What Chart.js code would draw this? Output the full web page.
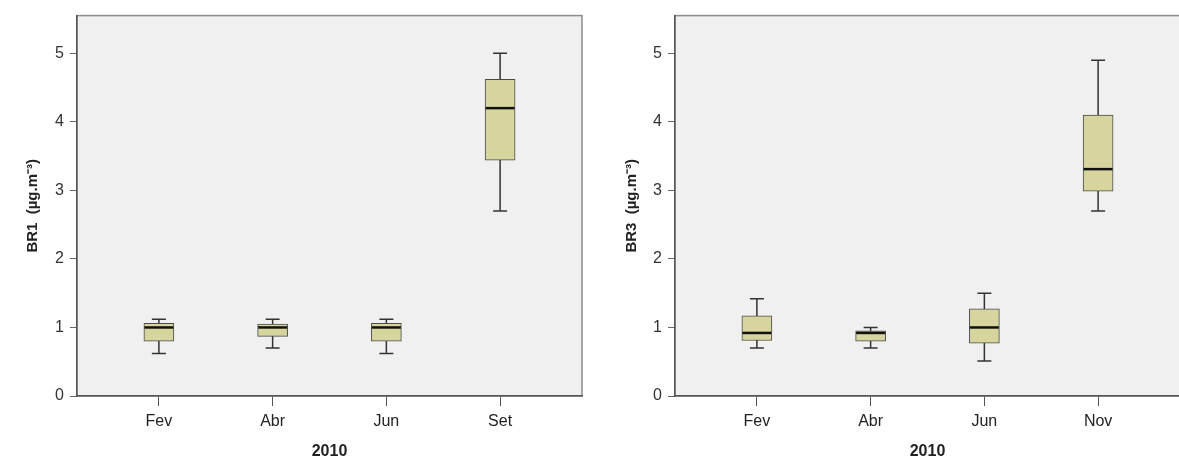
<!DOCTYPE html>
<html>
<head>
<meta charset="utf-8">
<script src="https://cdn.jsdelivr.net/npm/chart.js@4.4.0/dist/chart.umd.min.js"></script>
<style>
  html, body { margin: 0; padding: 0; background: #fff; overflow: hidden; width: 1179px; height: 464px; }
  canvas { position: absolute; top: 0; }
  #graf-br1 { left: 0; }
  #graf-br3 { left: 590px; }
</style>
</head>
<body>
<canvas id="graf-br1" width="590" height="464"></canvas>
<canvas id="graf-br3" width="600" height="464"></canvas>
<script>
// valores (µg.m-3)
const mesesBR1 = ['Fev', 'Abr', 'Jun', 'Set'];
const br1Min = [0.62, 0.70, 0.62, 2.70];
const br1Q1  = [0.80, 0.87, 0.80, 3.44];
const br1Med = [1.00, 1.00, 1.00, 4.20];
const br1Q3  = [1.06, 1.05, 1.06, 4.62];
const br1Max = [1.12, 1.12, 1.12, 5.00];

const mesesBR3 = ['Fev', 'Abr', 'Jun', 'Nov'];
const br3Min = [0.70, 0.70, 0.51, 2.70];
const br3Q1  = [0.81, 0.80, 0.77, 2.99];
const br3Med = [0.92, 0.92, 1.00, 3.31];
const br3Q3  = [1.17, 0.95, 1.27, 4.10];
const br3Max = [1.42, 1.00, 1.50, 4.90];

const yTicks = [0, 1, 2, 3, 4, 5];

const fonte = '"Liberation Sans", Arial, sans-serif';
const corCaixa = 'rgb(215, 213, 158)';

// fundo, bigodes e medianas (Chart.js nao tem boxplot nativo)
function pluginCaixa(mins, meds, maxs) {
  return {
    id: 'caixa',
    beforeDraw(chart) {
      const a = chart.chartArea, ctx = chart.ctx;
      ctx.save();
      ctx.fillStyle = '#f0f0f0';
      ctx.fillRect(a.left, a.top, a.right - a.left, a.bottom - a.top);
      ctx.strokeStyle = '#8c8c8c';
      ctx.lineWidth = 1.5;
      ctx.strokeRect(a.left, a.top, a.right - a.left, a.bottom - a.top);
      ctx.restore();
    },
    beforeDatasetsDraw(chart) {
      const x = chart.scales.x, y = chart.scales.y, ctx = chart.ctx;
      ctx.save();
      ctx.strokeStyle = '#333';
      ctx.lineWidth = 1.5;
      mins.forEach((mn, i) => {
        const px = x.getPixelForValue(i);
        const yMin = y.getPixelForValue(mn), yMax = y.getPixelForValue(maxs[i]);
        ctx.beginPath();
        ctx.moveTo(px, yMin); ctx.lineTo(px, yMax);
        ctx.moveTo(px - 7, yMin); ctx.lineTo(px + 7, yMin);
        ctx.moveTo(px - 7, yMax); ctx.lineTo(px + 7, yMax);
        ctx.stroke();
      });
      ctx.restore();
    },
    afterDatasetsDraw(chart) {
      const x = chart.scales.x, y = chart.scales.y, ctx = chart.ctx;
      ctx.save();
      ctx.strokeStyle = '#111';
      ctx.lineWidth = 2.5;
      meds.forEach((md, i) => {
        const px = x.getPixelForValue(i), py = y.getPixelForValue(md);
        ctx.beginPath();
        ctx.moveTo(px - 14.5, py); ctx.lineTo(px + 14.5, py);
        ctx.stroke();
      });
      ctx.restore();
    }
  };
}

function criaGrafico(id, meses, mins, q1, meds, q3, maxs, tituloY, padY, larguraY, padDir) {
  return new Chart(document.getElementById(id), {
    type: 'bar',
    data: {
      datasets: [{
        data: q1.map((v, i) => ({ x: i, y: [v, q3[i]] })),
        backgroundColor: corCaixa,
        borderColor: '#4a4a4a',
        borderWidth: 1,
        borderSkipped: false,
        barThickness: 30
      }]
    },
    options: {
      responsive: false,
      animation: false,
      layout: { padding: { top: 15, right: padDir, left: 0, bottom: 0 } },
      plugins: { legend: { display: false }, tooltip: { enabled: false } },
      scales: {
        x: {
          type: 'linear',
          offset: false,
          min: -0.72,
          max: 3.72,
          afterBuildTicks: s => { s.ticks = meses.map((m, i) => ({ value: i })); },
          afterFit: s => { s.height = 68; },
          border: { display: true, color: '#555', width: 1.5 },
          grid: { offset: false, drawOnChartArea: false, drawTicks: true, tickLength: 10, color: '#555' },
          ticks: {
            color: '#222',
            padding: 6,
            maxRotation: 0,
            font: { family: fonte, size: 16 },
            callback: v => meses[v]
          },
          title: {
            display: true,
            text: '2010',
            color: '#222',
            padding: { top: 0, bottom: 3 },
            font: { family: fonte, size: 16, weight: 'bold' }
          }
        },
        y: {
          min: 0,
          max: 5.55,
          afterBuildTicks: s => { s.ticks = yTicks.map(v => ({ value: v })); },
          afterFit: s => { s.width = larguraY; },
          border: { display: true, color: '#555', width: 1.5 },
          grid: { drawOnChartArea: false, drawTicks: true, tickLength: 7, color: '#666' },
          ticks: {
            color: '#333',
            padding: 6,
            font: { family: fonte, size: 16 }
          },
          title: {
            display: true,
            text: tituloY,
            color: '#222',
            padding: { top: padY, bottom: 0 },
            font: { family: fonte, size: 15, weight: 'bold' }
          }
        }
      }
    },
    plugins: [pluginCaixa(mins, meds, maxs)]
  });
}

criaGrafico('graf-br1', mesesBR1, br1Min, br1Q1, br1Med, br1Q3, br1Max, 'BR1  (µg.m⁻³)', 24, 77, 8);
criaGrafico('graf-br3', mesesBR3, br3Min, br3Q1, br3Med, br3Q3, br3Max, 'BR3  (µg.m⁻³)', 33, 85, 10);
</script>
</body>
</html>
